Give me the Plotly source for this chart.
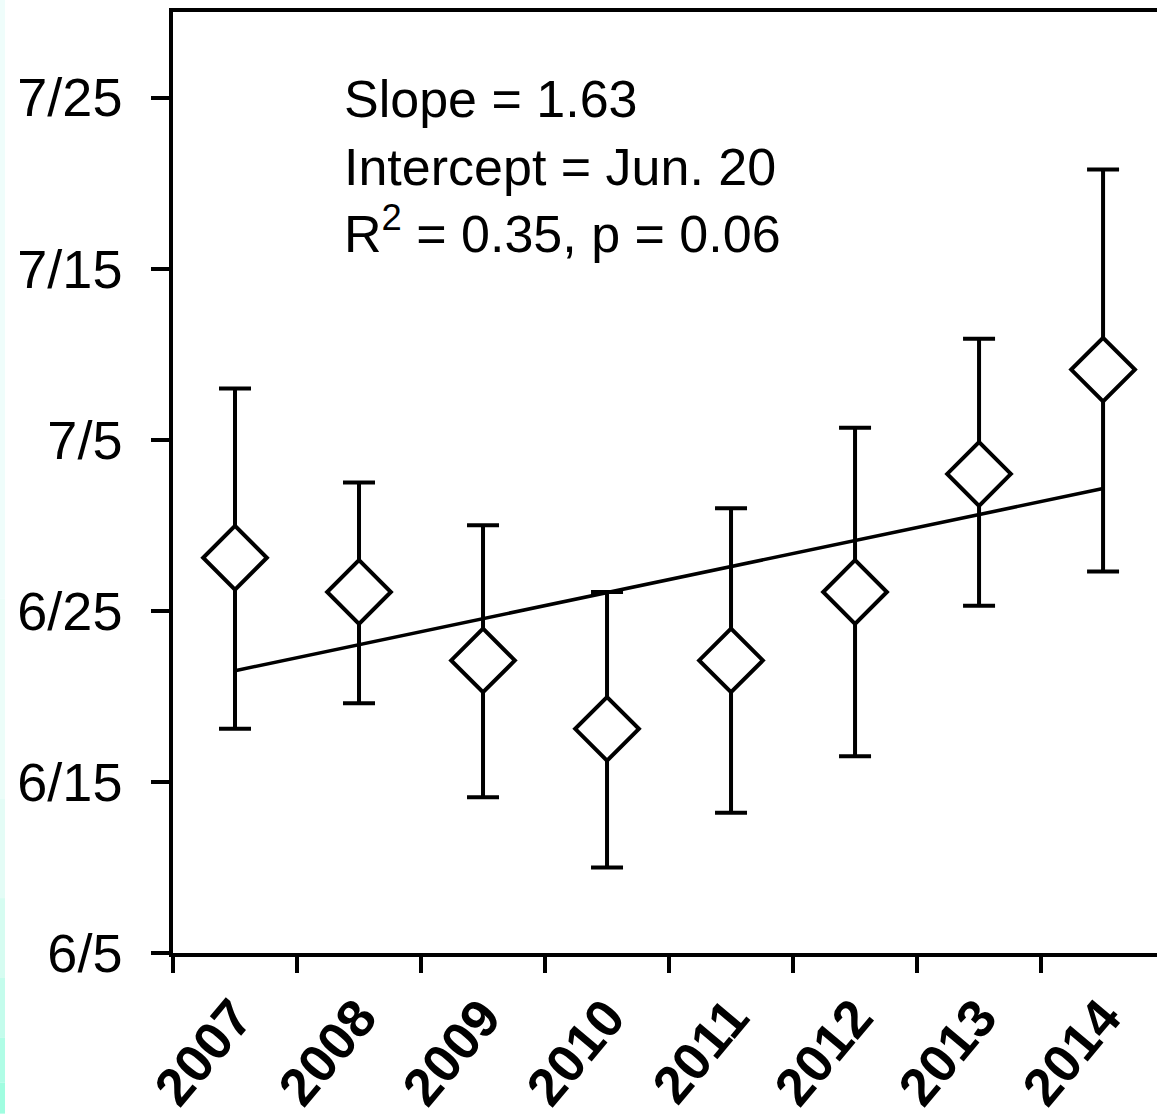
import plotly.graph_objects as go

# Data (days after June 1; 6/5 = 4, 6/15 = 14, ... 7/25 = 54)
years = ["2007", "2008", "2009", "2010", "2011", "2012", "2013", "2014"]
mean_day = [27.1, 25.1, 21.1, 17.1, 21.1, 25.1, 32.0, 38.1]
upper_day = [37.0, 31.5, 29.0, 25.1, 30.0, 34.7, 39.9, 49.8]
lower_day = [17.1, 18.6, 13.1, 9.0, 12.2, 15.5, 24.3, 26.3]
trend_years = ["2007", "2014"]
trend_day = [20.5, 31.15]
ytick_vals = [4, 14, 24, 34, 44, 54]
ytick_text = ["6/5", "6/15", "6/25", "7/5", "7/15", "7/25"]
stats_text = "Slope = 1.63<br>Intercept = Jun. 20<br>R<sup>2</sup> = 0.35, p = 0.06"

err_plus = [u - m for u, m in zip(upper_day, mean_day)]
err_minus = [m - l for m, l in zip(mean_day, lower_day)]

fig = go.Figure()
fig.add_trace(go.Scatter(
    x=trend_years, y=trend_day, mode="lines",
    line=dict(color="black", width=3.5), showlegend=False, hoverinfo="skip"))
fig.add_trace(go.Scatter(
    x=years, y=mean_day, mode="markers",
    marker=dict(symbol="diamond", size=49, color="white",
                line=dict(color="black", width=4)),
    error_y=dict(type="data", symmetric=False, array=err_plus, arrayminus=err_minus,
                 color="black", thickness=4, width=16),
    showlegend=False))

fig.add_annotation(
    text=stats_text, xref="paper", yref="paper", x=0.172, y=0.94,
    xanchor="left", yanchor="top", align="left", showarrow=False,
    font=dict(family="Liberation Sans, Arial, sans-serif", size=52, color="black"))

# left-edge cyan strip (vertical gradient approximation)
strip_cols = ["#effdfb", "#ecfdf9", "#e4fcf6", "#d6fcf1", "#c4fcec", "#b0fde6", "#a0fde0"]
bounds = [0, 600, 800, 900, 980, 1040, 1085, 1116]
for i, c in enumerate(strip_cols):
    y0 = 1 - (bounds[i + 1] - 12) / 943
    y1 = 1 - (bounds[i] - 12) / 943
    fig.add_shape(type="rect", xref="paper", yref="paper",
                  x0=-173 / 984, x1=-168 / 984, y0=y0, y1=y1,
                  fillcolor=c, line=dict(width=0), layer="below")

fig.update_layout(
    width=1157, height=1116,
    margin=dict(l=173, r=0, t=12, b=161),
    paper_bgcolor="white", plot_bgcolor="white",
    font=dict(family="Liberation Sans, Arial, sans-serif", color="black"),
    xaxis=dict(type="category", categoryorder="array", categoryarray=years,
               range=[-0.5, 7.435], tickson="boundaries",
               showline=True, linecolor="black", linewidth=3.5, mirror=True,
               ticks="outside", ticklen=16, tickwidth=3.5, tickcolor="black",
               tickangle=-50, showgrid=False, zeroline=False,
               tickfont=dict(family="Liberation Sans, Arial, sans-serif", size=53,
                             color="black", weight="bold"),
               ticklabelstandoff=8),
    yaxis=dict(range=[4, 59], tickvals=ytick_vals, ticktext=ytick_text,
               showline=True, linecolor="black", linewidth=3.5,
               ticks="outside", ticklen=18, tickwidth=3.5, tickcolor="black",
               showgrid=False, zeroline=False,
               tickfont=dict(family="Liberation Sans, Arial, sans-serif", size=54, color="black"),
               ticklabelstandoff=18),
)

fig.write_html("out.html")
